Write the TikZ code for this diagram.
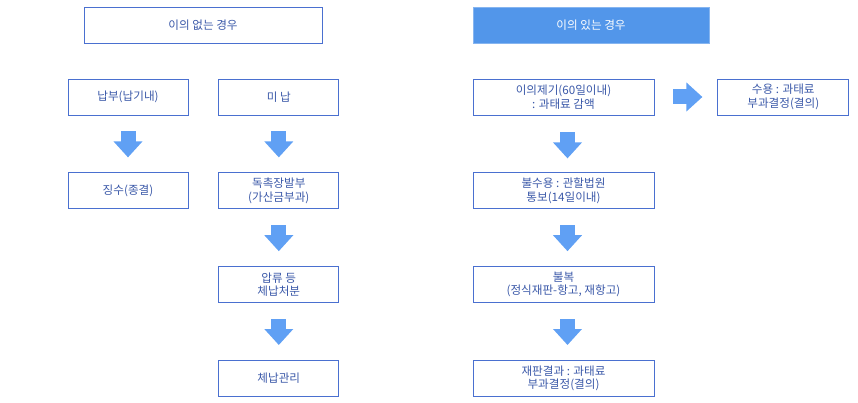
\documentclass[tikz,border=0pt]{standalone}
\usepackage{fontspec}
\setmainfont{Noto Sans CJK KR}
\usepackage{tikz}
\usetikzlibrary{arrows.meta, positioning}
\definecolor{cLine}{RGB}{74,112,208}
\definecolor{cText}{RGB}{58,88,168}
\definecolor{cHead}{RGB}{82,150,234}
\definecolor{cArrow}{RGB}{96,160,244}
\tikzset{
	box/.style     ={rectangle, draw=cLine, line width=0.8pt, minimum width=120pt, minimum height=36pt, align=center, text=cText, inner sep=2pt},
	headbox/.style ={box, minimum width=238pt},
	headfill/.style={box, minimum width=236pt, fill=cHead, draw=cHead!70!white, text=white},
	bigarrow/.style={draw=cArrow, line width=15pt, -{Triangle[length=16pt, width=28pt, fill=cArrow]}},
}

\begin{document}
\begin{tikzpicture}[x=1pt, y=1pt, font=\fontsize{11.6}{13.5}\selectfont, node distance=57pt]
			\useasboundingbox (0,0) rectangle (858,-403);
			% left side: no objection
			\node[headbox] (hl) at (203,-25) {이의 없는 경우};
			\node[box] (pay) at (128,-97) {납부(납기내)};
			\node[box, right=30pt of pay] (unpaid) {미 납};
			\node[box, below=of pay] (coll) {징수(종결)};
			\node[box, below=of unpaid] (dun) {독촉장발부\\(가산금부과)};
			\node[box, below=of dun] (seize) {압류 등\\체납처분};
			\node[box, below=of seize] (arrears) {체납관리};
			% right side: objection
			\node[headfill] (hr) at (591,-25) {이의 있는 경우};
			\node[box, minimum width=181pt] (obj) at (563.5,-97) {이의제기(60일이내)\\: 과태료 감액};
			\node[box, minimum width=131pt, right=63pt of obj] (acc) {수용 : 과태료\\부과결정(결의)};
			\node[box, minimum width=181pt, below=of obj] (rej) {불수용 : 관할법원\\통보(14일이내)};
			\node[box, minimum width=181pt, below=of rej] (appeal) {불복\\(정식재판-항고, 재항고)};
			\node[box, minimum width=181pt, below=of appeal] (trial) {재판결과 : 과태료\\부과결정(결의)};
			\draw[bigarrow, shorten <=16pt, shorten >=15pt] (pay) -- (coll);
			\draw[bigarrow, shorten <=16pt, shorten >=15pt] (unpaid) -- (dun);
			\draw[bigarrow, shorten <=16pt, shorten >=15pt] (dun) -- (seize);
			\draw[bigarrow, shorten <=16pt, shorten >=15pt] (seize) -- (arrears);
			\draw[bigarrow, shorten <=17pt, shorten >=14pt] ([xshift=4pt]obj.south) -- ([xshift=4pt]rej.north);
			\draw[bigarrow, shorten <=16pt, shorten >=15pt] ([xshift=4pt]rej.south) -- ([xshift=4pt]appeal.north);
			\draw[bigarrow, shorten <=16pt, shorten >=15pt] ([xshift=4pt]appeal.south) -- ([xshift=4pt]trial.north);
			\draw[bigarrow, shorten <=19pt, shorten >=15pt] (obj) -- (acc);
		\end{tikzpicture}
\end{document}
